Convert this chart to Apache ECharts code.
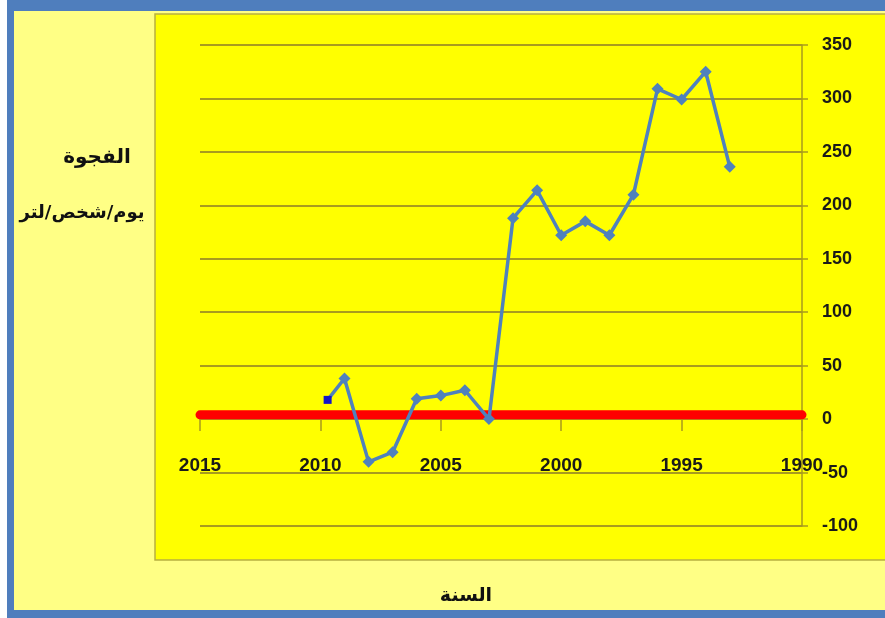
<!DOCTYPE html>
<html>
<head>
<meta charset="utf-8">
<script src="https://cdn.jsdelivr.net/npm/echarts@6/dist/echarts.min.js"></script>
<style>html,body{margin:0;padding:0;background:#fff}#c{width:885px;height:618px}</style>
</head>
<body>
<div id="c"></div>
<script>
// ---- data ----
var years = [2009.7, 2009, 2008, 2007, 2006, 2005, 2004, 2003, 2002, 2001, 2000, 1999, 1998, 1997, 1996, 1995, 1994, 1993];
var gapValues = [18, 38, -40, -31, 19, 22, 27, 0, 188, 214, 172, 185, 172, 210, 309, 299, 325, 236];
var zeroLineYears = [2015, 1990];
var zeroLineValues = [4, 4];
var xTicks = [1990, 1995, 2000, 2005, 2010, 2015];
var yTicks = [-100, -50, 0, 50, 100, 150, 200, 250, 300, 350];
var yTitle1 = 'الفجوة';
var yTitle2Words = ['لتر', 'شخص', 'يوم'];
var xTitle = 'السنة';

var gapData = years.map(function (y, i) {
  var item = { value: [y, gapValues[i]] };
  if (i === 0) {
    item.symbol = 'rect';
    item.symbolSize = 8;
    item.itemStyle = { color: '#1414C8' };
  }
  return item;
});
var zeroData = zeroLineYears.map(function (y, i) { return [y, zeroLineValues[i]]; });
var yTitle2Rich = yTitle2Words.map(function (w) { return '{a|' + w + '}'; }).join('{a|/}');

var chart = echarts.init(document.getElementById('c'), null, { renderer: 'canvas' });
var numFont = '"Liberation Sans", Arial, sans-serif';
var arFont = '"DejaVu Sans", sans-serif';
chart.setOption({
  backgroundColor: '#FFFF85',
  animation: false,
  graphic: [
    { type: 'rect', z: -10, shape: { x: 0, y: 0, width: 885, height: 618 }, style: { fill: '#FFFF85' }, silent: true },
    { type: 'rect', z: -10, shape: { x: 0, y: 0, width: 885, height: 11 }, style: { fill: '#4F7EBD' }, silent: true },
    { type: 'rect', z: -10, shape: { x: 7, y: 0, width: 7, height: 618 }, style: { fill: '#4F7EBD' }, silent: true },
    { type: 'rect', z: -10, shape: { x: 0, y: 0, width: 7, height: 618 }, style: { fill: '#FFFFFF' }, silent: true },
    { type: 'rect', z: -10, shape: { x: 7, y: 610, width: 878, height: 8 }, style: { fill: '#4F7EBD' }, silent: true },
    { type: 'rect', z: -9, shape: { x: 155, y: 14, width: 740, height: 546 }, style: { fill: '#FFFF00', stroke: '#B8B040', lineWidth: 1.5 }, silent: true },
    { type: 'text', z: 10, x: 97, y: 158, style: { text: yTitle1, font: 'bold 20px ' + arFont, fill: '#111', textAlign: 'center', textVerticalAlign: 'middle' } },
    { type: 'text', z: 10, x: 82, y: 213, style: { text: yTitle2Rich, textAlign: 'center', textVerticalAlign: 'middle',
        rich: { a: { font: 'bold 18px ' + arFont, fill: '#111' } } } },
    { type: 'text', z: 10, x: 466, y: 596, style: { text: xTitle, font: 'bold 19px ' + arFont, fill: '#111', textAlign: 'center', textVerticalAlign: 'middle' } }
  ],
  grid: { left: 200, right: 83, top: 45, bottom: 92, containLabel: false },
  xAxis: {
    type: 'value', inverse: true, min: 1990, max: 2015, interval: 5,
    axisLine: { show: true, onZero: true, lineStyle: { color: '#A89B1E', width: 1.5 } },
    axisTick: { show: true, inside: false, length: 12, lineStyle: { color: '#A89B1E', width: 1.5 } },
    axisLabel: { margin: -70, color: '#1a1a1a', fontWeight: 'bold', fontSize: 19, fontFamily: numFont,
      formatter: function (v) { return xTicks.indexOf(v) >= 0 ? String(v) : ''; } },
    splitLine: { show: false }
  },
  yAxis: {
    type: 'value', position: 'right', min: -100, max: 350, interval: 50,
    axisLine: { show: true, onZero: false, lineStyle: { color: '#A89B1E', width: 1.5 } },
    axisTick: { show: true, inside: false, length: 6, lineStyle: { color: '#A89B1E', width: 1.5 } },
    axisLabel: { margin: 20, color: '#1a1a1a', fontWeight: 'bold', fontSize: 18, fontFamily: numFont, align: 'left',
      formatter: function (v) { return yTicks.indexOf(v) >= 0 ? String(v) : ''; } },
    splitLine: { show: true, lineStyle: { color: '#A89B1E', width: 2 } }
  },
  series: [
    {
      type: 'line', data: zeroData, showSymbol: false, symbol: 'none', z: 3,
      lineStyle: { color: '#FF0000', width: 9, cap: 'round' }, silent: true
    },
    {
      type: 'line', data: gapData, symbol: 'diamond', symbolSize: 12, z: 4,
      itemStyle: { color: '#4F81BD' },
      lineStyle: { color: '#4F81BD', width: 3.5 }
    }
  ]
});
</script>
</body>
</html>
